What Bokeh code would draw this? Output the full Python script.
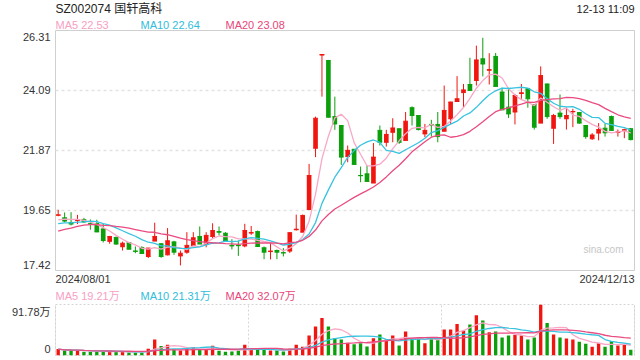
import pandas as pd
from bokeh.plotting import figure
from bokeh.layouts import column, row
from bokeh.models import ColumnDataSource, Label, Span, FixedTicker, Range1d
from bokeh.embed import file_html
from bokeh.resources import INLINE

# ---------------- data ----------------
opens = [19.47, 19.37, 19.20, 19.27, 19.30, 19.15, 19.16, 18.96, 18.50, 18.64,
         18.30, 18.45, 18.14, 18.27, 17.94, 18.51, 18.41, 18.00, 18.48, 17.96,
         18.10, 18.35, 18.68, 18.38, 18.68, 18.86, 18.80, 18.35, 18.35, 18.33,
         18.81, 18.86, 18.26, 18.12, 18.16, 18.08, 18.14, 18.93, 18.84, 19.68,
         21.95, 25.40, 25.20, 23.12, 22.79, 21.64, 21.91, 20.94, 21.00, 20.66,
         22.61, 22.17, 22.54, 22.67, 22.24, 23.45, 23.16, 22.48, 22.83, 22.83,
         22.58, 23.04, 23.68, 24.01, 24.31, 24.46, 25.26, 24.84, 25.35, 24.03,
         23.47, 23.29, 23.98, 24.15, 23.57, 22.88, 24.33, 22.69, 23.25, 23.04,
         23.30, 23.27, 22.79, 22.30, 22.51, 22.69, 23.12, 22.54, 22.62, 22.67]
highs = [19.67, 19.57, 19.58, 19.48, 19.37, 19.31, 19.30, 19.15, 18.70, 18.68,
         18.49, 18.46, 18.31, 18.32, 18.25, 19.19, 18.43, 18.99, 18.52, 18.16,
         18.84, 18.84, 19.05, 18.84, 19.17, 19.05, 18.84, 18.58, 18.53, 19.15,
         19.07, 18.90, 18.31, 18.43, 18.20, 18.25, 18.84, 19.49, 19.49, 21.37,
         23.12, 25.43, 25.22, 23.86, 22.80, 22.05, 21.92, 21.27, 21.31, 22.14,
         22.79, 22.63, 23.06, 22.68, 23.29, 23.50, 23.17, 22.85, 23.00, 23.29,
         24.27, 23.67, 24.62, 24.33, 25.30, 25.75, 26.04, 25.47, 25.48, 24.19,
         24.19, 23.96, 24.33, 24.16, 23.58, 24.98, 24.34, 23.22, 23.94, 23.45,
         23.41, 23.28, 22.80, 22.51, 22.88, 22.85, 23.16, 22.64, 22.67, 22.70]
lows = [19.43, 19.21, 19.09, 19.14, 19.19, 18.93, 18.84, 18.46, 18.41, 18.37,
        18.16, 18.20, 18.06, 18.05, 17.88, 18.51, 17.89, 17.98, 18.00, 17.61,
        18.04, 18.35, 18.40, 18.28, 18.59, 18.72, 18.53, 18.20, 17.96, 18.28,
        18.74, 18.31, 17.84, 17.83, 17.84, 17.94, 18.07, 18.90, 18.84, 19.66,
        21.62, 23.86, 23.08, 22.63, 21.33, 21.43, 21.35, 20.69, 20.72, 20.66,
        22.05, 22.01, 22.17, 22.11, 22.24, 22.79, 22.61, 22.36, 22.38, 22.17,
        22.58, 22.85, 23.68, 23.47, 24.09, 24.27, 24.61, 24.31, 24.24, 23.37,
        23.07, 22.83, 23.78, 23.45, 22.64, 22.88, 23.04, 22.11, 23.04, 22.64,
        22.73, 22.85, 22.30, 22.26, 22.24, 22.38, 22.61, 22.38, 22.32, 22.24]
closes = [19.48, 19.25, 19.14, 19.29, 19.22, 19.14, 18.85, 18.53, 18.68, 18.40,
          18.43, 18.21, 18.13, 18.05, 18.25, 18.68, 17.94, 18.52, 18.10, 18.06,
          18.35, 18.63, 18.40, 18.72, 18.90, 18.84, 18.53, 18.33, 18.34, 18.90,
          18.82, 18.31, 18.10, 18.14, 18.10, 18.07, 18.82, 18.95, 19.46, 20.94,
          23.06, 25.42, 23.10, 22.85, 21.62, 21.87, 21.35, 20.93, 20.72, 21.62,
          22.17, 22.46, 22.70, 22.17, 22.95, 23.16, 22.64, 22.61, 22.80, 22.38,
          23.35, 23.66, 23.78, 24.11, 24.09, 25.22, 25.07, 24.86, 24.24, 23.37,
          23.22, 23.90, 24.00, 23.78, 22.73, 24.64, 23.12, 23.16, 23.12, 23.16,
          23.31, 22.88, 22.38, 22.44, 22.64, 22.52, 22.61, 22.55, 22.63, 22.27]
# closes before 2024/08/01, estimated from where the MA lines start
prior_closes = [18.0, 18.1, 18.1, 18.3, 18.7, 18.9, 19.0, 18.9, 19.0, 19.0,
                19.0, 19.1, 19.05, 19.15, 18.8, 19.1, 19.2, 19.3, 19.4]
volumes = [11.5, 9.1, 9.1, 9.1, 6.7, 6.7, 7.3, 6.7, 6.7, 6.7,
           6.7, 5.5, 5.5, 5.5, 12.2, 28.6, 17.0, 19.5, 10.9, 9.1,
           13.4, 15.2, 10.9, 11.5, 17.6, 8.5, 6.7, 7.3, 9.1, 19.5,
           10.9, 10.9, 10.9, 9.1, 9.1, 7.3, 12.2, 19.5, 15.8, 35.9,
           52.3, 67.5, 52.3, 31.0, 28.6, 23.1, 20.1, 21.9, 16.4, 31.0,
           37.7, 28.6, 35.9, 18.2, 43.2, 31.0, 29.2, 21.9, 29.2, 28.6,
           46.8, 46.8, 56.5, 45.0, 55.9, 72.3, 63.2, 41.9, 43.2, 32.2,
           35.9, 37.1, 35.9, 28.6, 32.2, 91.78, 58.3, 37.7, 32.2, 30.4,
           28.6, 24.9, 21.3, 15.8, 21.9, 15.8, 26.1, 18.2, 20.1, 10.3]  # 万手
price_ticks = [17.42, 19.65, 21.87, 24.09, 26.31]
vol_ticks = [0, 91.78]
start_date = "2024/08/01"
end_date = "2024/12/13"
title_text = "SZ002074 国轩高科"
time_text = "12-13 11:09"
ma_price_labels = ["MA5 22.53", "MA10 22.64", "MA20 23.08"]
ma_vol_labels = ["MA5 19.21万", "MA10 21.31万", "MA20 32.07万"]

# ---------------- styling ----------------
RED = "#f0160f"
GREEN = "#0c9f0c"
MA_COLORS = ["#f8a7c6", "#38c3e0", "#ea4b80"]
MA_TEXT = ["#f7a0c2", "#2fbddb", "#e8457a"]
FONT = "'Liberation Sans', 'Noto Sans CJK SC', sans-serif"
BORDER = "#cfcfcf"
GRID = "#e2e2e2"

n = len(closes)
xs = list(range(n))
colors = [RED if c >= o else GREEN for o, c in zip(opens, closes)]
BW = 0.72
src = ColumnDataSource(dict(
    x=xs, open=opens, high=highs, low=lows, close=closes, color=colors,
    top=[max(o, c) for o, c in zip(opens, closes)],
    bottom=[min(o, c) for o, c in zip(opens, closes)],
    xl=[x - BW / 2 for x in xs], xr=[x + BW / 2 for x in xs],
    vol=volumes,
))

allc = pd.Series(prior_closes + closes)
mas = [allc.rolling(k).mean().tolist()[-n:] for k in (5, 10, 20)]
vs = pd.Series(volumes)
vmas = [vs.rolling(k, min_periods=1).mean().tolist() for k in (5, 10, 20)]

X0, X1 = -0.42, n - 0.42
price_range = Range1d(price_ticks[0], price_ticks[-1])
vol_range = Range1d(vol_ticks[0], vol_ticks[-1])
Y0, Y1 = price_ticks[0], price_ticks[-1]


def make_fig(w, h, xr, yr, left=0, right=0, top=0, bottom=0):
    f = figure(width=w, height=h, output_backend="svg", toolbar_location=None,
               x_range=xr, y_range=yr,
               min_border_left=left, min_border_right=right,
               min_border_top=top, min_border_bottom=bottom)
    f.xaxis.visible = False
    f.yaxis.visible = False
    f.xgrid.visible = False
    f.ygrid.visible = False
    f.outline_line_color = None
    f.background_fill_color = "white"
    f.border_fill_color = "white"
    return f


def lab(f, x, y, text, color="#333333", size="11px", align="left", xo=0, yo=0):
    f.add_layout(Label(x=x, y=y, text=text, text_color=color,
                       text_font=FONT, text_font_size=size, text_align=align,
                       text_baseline="middle", x_offset=xo, y_offset=yo))


def text_fig(w, h):
    # pixel-coordinate strip for the chart's texts (y grows downward)
    return make_fig(w, h, Range1d(0, w), Range1d(h, 0))


# ---------------- header ----------------
head = text_fig(640, 29)
lab(head, 55, 8, title_text, color="#222222", size="12px")
lab(head, 634, 8, time_text, color="#222222", size="11px", align="right")
for i, (t, c) in enumerate(zip(ma_price_labels, MA_TEXT)):
    lab(head, 55 + 85 * i, 24, t, color=c)

# ---------------- price panel ----------------
p = make_fig(586, 242, Range1d(X0, X1), price_range, left=1, right=6, top=1, bottom=1)
p.outline_line_color = BORDER
p.ygrid.visible = True
p.ygrid.ticker = FixedTicker(ticks=price_ticks[1:-1])
p.ygrid.grid_line_color = GRID
p.ygrid.grid_line_dash = "3 3"
p.ygrid.grid_line_width = 1.5

p.segment(x0="x", y0="low", x1="x", y1="high", color="color", line_width=1, source=src)
p.vbar(x="x", width=BW, top="top", bottom="bottom", fill_color="color",
       line_color=None, source=src)
p.segment(x0="xl", y0="open", x1="xr", y1="open", color="color", line_width=1, source=src)
p.segment(x0="xl", y0="close", x1="xr", y1="close", color="color", line_width=1, source=src)
for ma, c in zip(mas, MA_COLORS):
    p.line(xs, ma, color=c, line_width=1.3)
lab(p, X1, Y0, "sina.com", color="#c6c6c6", size="10px", align="right", xo=-11, yo=21)

# price tick labels, sharing the price scale
pl = make_fig(54, 242, Range1d(0, 54), price_range, top=1, bottom=1)
for t in price_ticks:
    yo = -6 if t == Y1 else (6 if t == Y0 else 0)
    lab(pl, 50, t, f"{t:.2f}", align="right", yo=yo)

# ---------------- middle strip ----------------
mid = text_fig(640, 32)
lab(mid, 55, 7, start_date)
lab(mid, 634, 7, end_date, align="right")
for i, (t, c) in enumerate(zip(ma_vol_labels, MA_TEXT)):
    lab(mid, 55 + 85 * i, 24, t, color=c)

# ---------------- volume panel ----------------
v = make_fig(586, 57, Range1d(X0, X1), vol_range, left=1, right=6, top=1, bottom=5)
v.outline_line_color = "#d6d6d6"
v.outline_line_dash = "2 2"
v.xgrid.visible = True
v.xgrid.ticker = FixedTicker(ticks=[X0 + (X1 - X0) / 3, X0 + 2 * (X1 - X0) / 3])
v.xgrid.grid_line_color = "#d6d6d6"
v.xgrid.grid_line_dash = "2 2"
v.add_layout(Span(location=X0, dimension="height", line_color=BORDER, line_width=1))
v.add_layout(Span(location=X1, dimension="height", line_color=BORDER, line_width=1))
v.vbar(x="x", width=0.52, top="vol", bottom=0, fill_color="color",
       line_color=None, source=src)
for ma, c in zip(vmas, MA_COLORS):
    v.line(xs, ma, color=c, line_width=1.3)

vl = make_fig(54, 57, Range1d(0, 54), vol_range, top=1, bottom=5)
lab(vl, 50, vol_ticks[-1], f"{vol_ticks[-1]:.2f}万", align="right", yo=-7)
lab(vl, 50, 0, "0", align="right", yo=7)

layout = column(head, row(pl, p, spacing=0), mid, row(vl, v, spacing=0), spacing=0)
open("out.html", "w").write(file_html(layout, INLINE))
